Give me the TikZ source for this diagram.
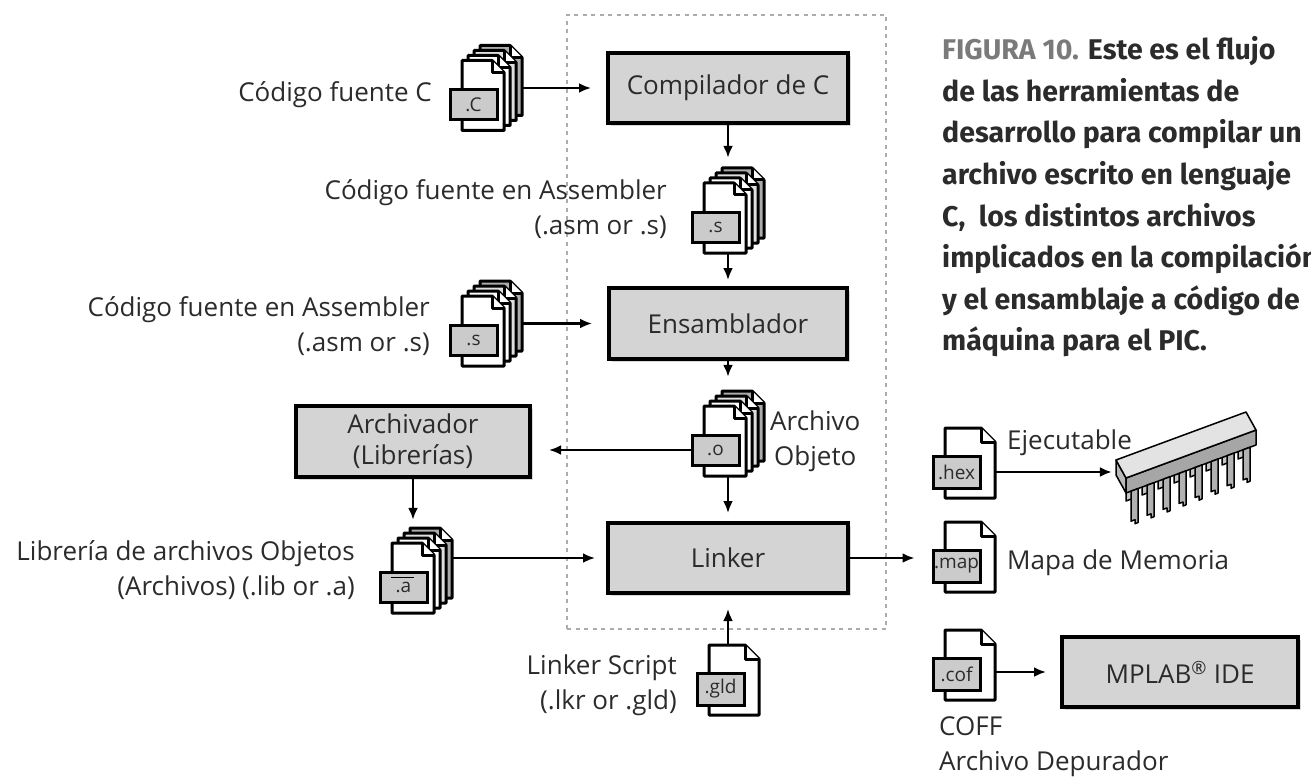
\documentclass[tikz,border=0pt]{standalone}
\usepackage{fontspec}
\setmainfont{Open Sans}
\newfontfamily\capfont{Fira Sans}
\usetikzlibrary{arrows.meta,shadows}

\definecolor{boxgray}{HTML}{D4D4D4}
\definecolor{ink}{HTML}{2B2B2B}
\definecolor{tabgray}{HTML}{CBCBCB}
\definecolor{figgray}{HTML}{7A7A7A}

\tikzset{
  every node/.style={text=ink},
  txt/.style={font=\fontsize{26}{35}\selectfont, inner sep=0},
  tool/.style={draw=black, line width=4, fill=boxgray, inner sep=0,
    font=\fontsize{26}{31}\selectfont, align=center,
    drop shadow={shadow xshift=3pt, shadow yshift=-3pt, opacity=.3}},
  arr/.style={draw=black, line width=2.8, -{Latex[length=12,width=10]}},
  pageline/.style={draw=black, line width=3, fill=white, line join=round},
  tab/.style={draw=black, line width=3, fill=tabgray, inner sep=0,
    font=\fontsize{19}{19}\selectfont},
  frame/.style={draw=gray!65, line width=2.5, dash pattern=on 4pt off 4.5pt, inner sep=0},
  caption/.style={font=\capfont\bfseries\fontsize{28.5}{28.5}\selectfont, inner sep=0, anchor=base west},
  % a stack of source files with a folded corner and an extension tab
  pics/stackfile/.style={code={
    \filldraw[pageline, fill=gray!65] (18,-15) -- (48,-15) -- (60,-3) -- (60,55) -- (18,55) -- cycle;
    \draw[pageline] (48,-15) -- (48,-3) -- (60,-3);
    \filldraw[pageline, fill=gray!25] (12,-10) -- (42,-10) -- (54,2) -- (54,60) -- (12,60) -- cycle;
    \draw[pageline] (42,-10) -- (42,2) -- (54,2);
    \filldraw[pageline] (6,-5) -- (36,-5) -- (48,7) -- (48,65) -- (6,65) -- cycle;
    \draw[pageline] (36,-5) -- (36,7) -- (48,7);
    \filldraw[pageline] (0,0) -- (30,0) -- (42,12) -- (42,70) -- (0,70) -- cycle;
    \draw[pageline] (30,0) -- (30,12) -- (42,12);
    \node[tab, minimum width=47, minimum height=30] (-lbl) at (11.5,44) {#1};
    \node[inner sep=0, minimum width=72, minimum height=85] (-area) at (24,27.5) {};
  }},
  % a single file with a folded corner and an extension tab
  pics/singlefile/.style={code={
    \filldraw[pageline] (0,0) -- (36,0) -- (50,14) -- (50,70) -- (0,70) -- cycle;
    \draw[pageline] (36,0) -- (36,14) -- (50,14);
    \node[tab, minimum width=47, minimum height=32] (-lbl) at (11.5,44) {#1};
    \node[inner sep=0, minimum width=62, minimum height=70] (-area) at (19,35) {};
  }}
}

\begin{document}
\begin{tikzpicture}[x=1pt,y=-1pt]
\useasboundingbox (0,0) rectangle (1311,778);

% dotted frame around the tool chain
\node[frame, minimum width=319, minimum height=614] (chain) at (726.5,322) {};

% tools
\node[tool, minimum width=240, minimum height=70] (comp) at (728,88) {Compilador de C};
\node[tool, minimum width=238, minimum height=71] (ens) at (728,323.5) {Ensamblador};
\node[tool, minimum width=240, minimum height=70] (linker) at (728,558) {Linker};
\node[tool, minimum width=234, minimum height=71] (arch) at (413,441.5) {Archivador\\(Librerías)};
\node[tool, minimum width=236, minimum height=70] (mplab) at (1180,672) {MPLAB\textsuperscript{\textregistered}\ IDE};

% files
\pic (cf) at (462,60.5) {stackfile=.C};
\pic (sf) at (704,183) {stackfile=.s};
\pic (sf2) at (462,296) {stackfile=.s};
\pic (of) at (704,406) {stackfile=.o};
\pic (af) at (392,543) {stackfile=.a};
\draw[line width=1.2] ([xshift=12pt,yshift=-7pt]af-lbl.north west) -- ++(23,0);
\pic (gld) at (709,645) {singlefile=.gld};
\pic (hex) at (945,428) {singlefile=.hex};
\pic (map) at (945,522) {singlefile=.map};
\pic (cof) at (945,630) {singlefile=.cof};

% PIC microcontroller
\node[inner sep=0, minimum width=140, minimum height=110] (chip) at (1188,468) {};
\begin{scope}[line width=1.5, line join=round]
  % rear pins
  \foreach \i in {0,...,7}{
    \pgfmathsetmacro{\px}{1118+8+\i*16}
    \pgfmathsetmacro{\py}{462+14-(\i*16+8)*0.375}
    \filldraw[fill=gray!45] (\px,\py) -- ++(6,-2.2) -- ++(0,28) -- ++(-6,2.2) -- cycle;
  }
  % body: end face, front face, top face
  \filldraw[fill=gray!55] (1116,460) -- (1126,478) -- (1126,493) -- (1116,475) -- cycle;
  \filldraw[fill=gray!70] (1126,478) -- (1256,430) -- (1256,445) -- (1126,493) -- cycle;
  \filldraw[fill=gray!22] (1116,460) -- (1246,412) -- (1256,430) -- (1126,478) -- cycle;
  % front pins
  \foreach \i in {0,...,7}{
    \pgfmathsetmacro{\px}{1126+5+\i*16}
    \pgfmathsetmacro{\py}{493-(\i*16+5)*0.369}
    \filldraw[fill=gray!60] (\px,\py) -- ++(7,-2.6) -- ++(0,34) -- ++(-3,1.2) -- ++(0,-4) -- ++(-4,1.4) -- cycle;
  }
\end{scope}

% labels
\node[txt, anchor=east] (lc) at (432,95) {Código fuente C};
\node[txt, anchor=east, align=right] (lsa) at (667,209) {Código fuente en Assembler\\(.asm or .s)};
\node[txt, anchor=east, align=right] (lsb) at (430,326) {Código fuente en Assembler\\(.asm or .s)};
\node[txt, anchor=east, align=right] (llib) at (355,570) {Librería de archivos Objetos\\(Archivos) (.lib or .a)};
\node[txt, anchor=east, align=right] (lscr) at (677,685) {Linker Script\\(.lkr or .gld)};
\node[txt, align=center, anchor=west] (lobj) at (770,441) {Archivo\\Objeto};
\node[txt, anchor=west] (lexe) at (1007,443) {Ejecutable};
\node[txt, anchor=west] (lmap) at (1007,563) {Mapa de Memoria};
\node[txt, anchor=west, align=left] (lcoff) at (939,747) {COFF\\Archivo Depurador};

% connectors
\draw[arr, shorten >=15] (cf-area.east) -- (comp.west);
\draw[arr, shorten >=10] (comp.south) -- (sf-area.north);
\draw[arr, shorten >=6] (sf-area.south) -- (ens.north);
\draw[arr, shorten >=15] (sf2-area.east) -- (ens.west);
\draw[arr, shorten >=14] (ens.south) -- (of-area.north);
\draw[arr, shorten >=17] (of-lbl.west) -- (of-lbl.west -| arch.east);
\draw[arr, shorten >=8] (arch.south) -- (arch.south |- af-area.north);
\draw[arr, shorten >=11] (af-area.east |- linker.west) -- (linker.west);
\draw[arr, shorten >=8] (of-area.south) -- (linker.north);
\draw[arr, shorten >=14] (gld-area.north) -- (linker.south);
\draw[arr, shorten >=17] (linker.east) -- (linker.east -| map-lbl.west);
\draw[arr, shorten >=6] (hex-area.east |- hex-lbl.center) -- (hex-lbl.center -| chip.west);
\draw[arr, shorten >=14] (cof-area.east |- mplab.west) -- (mplab.west);

% caption
\node[caption] (cap1) at (942,60) {\textcolor{figgray}{FIGURA 10.} Este es el flujo};
\node[caption] (cap2) at (942,101.5) {de las herramientas de};
\node[caption] (cap3) at (942,143) {desarrollo para compilar un};
\node[caption] (cap4) at (942,184.5) {archivo escrito en lenguaje};
\node[caption] (cap5) at (942,226) {C,\ \ los distintos archivos};
\node[caption] (cap6) at (942,267.5) {implicados en la compilación};
\node[caption] (cap7) at (942,309) {y el ensamblaje a código de};
\node[caption] (cap8) at (942,350.5) {máquina para el PIC.};
\end{tikzpicture}
\end{document}
